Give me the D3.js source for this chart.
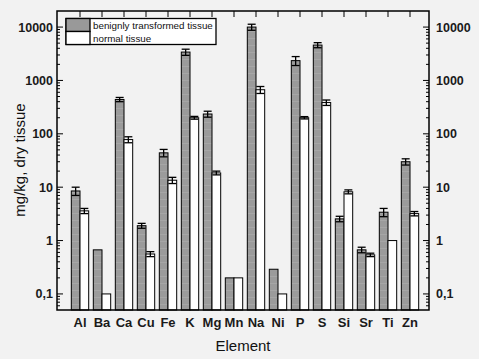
<!DOCTYPE html>
<html><head><meta charset="utf-8">
<script src="https://cdn.jsdelivr.net/npm/d3@7"></script>
<style>html,body{margin:0;padding:0;background:#f2f2f2;}svg{display:block;font-family:"Liberation Sans",Arial,sans-serif;}</style>
</head><body>
<svg id="c" width="479" height="359"></svg>
<script>
const categories = ["Al","Ba","Ca","Cu","Fe","K","Mg","Mn","Na","Ni","P","S","Si","Sr","Ti","Zn"];
const benign     = [8.5, 0.67, 440, 1.9, 44, 3400, 235, 0.2, 10000, 0.29, 2350, 4600, 2.55, 0.67, 3.4, 30];
const benignErr  = [1.5, 0, 40, 0.2, 7, 450, 30, 0, 1300, 0, 450, 500, 0.3, 0.08, 0.6, 4];
const normal     = [3.6, 0.1, 78, 0.56, 13.5, 200, 18.5, 0.2, 670, 0.1, 200, 385, 8.2, 0.54, 1.0, 3.2];
const normalErr  = [0.4, 0, 10, 0.06, 1.8, 12, 1.5, 0, 100, 0, 10, 45, 0.7, 0.04, 0, 0.3];
const tickValues = [0.1, 1, 10, 100, 1000, 10000];
const tickLabels = ["0,1", "1", "10", "100", "1000", "10000"];
const seriesNames = ["benignly transformed tissue", "normal tissue"];

const svg = d3.select("#c");
const L = 57, R = 429, T = 11, B = 310;
const x = d3.scaleBand().domain(categories).range([69, 421]);
const y = d3.scaleLog().domain([0.05, 20000]).range([B, T]);
const bw = x.bandwidth() * 0.395;

const defs = svg.append("defs");
const pat = defs.append("pattern").attr("id","stripe").attr("patternUnits","userSpaceOnUse")
  .attr("width", 8).attr("height", 7);
pat.append("rect").attr("width",8).attr("height",7).attr("fill","#9b9b9b");
pat.append("rect").attr("y",3).attr("width",8).attr("height",1).attr("fill","#a6a6a6");

// bars
const data = categories.map((c,i)=>({c, b:benign[i], be:benignErr[i], n:normal[i], ne:normalErr[i]}));
const g = svg.append("g");
g.selectAll(".bb").data(data).join("rect")
  .attr("x", d => x(d.c) + x.bandwidth()/2 - bw)
  .attr("y", d => y(d.b)).attr("width", bw).attr("height", d => B - y(d.b))
  .attr("fill","url(#stripe)").attr("stroke","#000").attr("stroke-width",1);
g.selectAll(".nb").data(data).join("rect")
  .attr("x", d => x(d.c) + x.bandwidth()/2)
  .attr("y", d => y(d.n)).attr("width", bw).attr("height", d => B - y(d.n))
  .attr("fill","#fff").attr("stroke","#000").attr("stroke-width",1);

function errBars(key, ekey, off) {
  const e = data.filter(d => d[ekey] > 0);
  const cx = d => x(d.c) + x.bandwidth()/2 + off;
  const eg = g.append("g").attr("stroke","#000").attr("stroke-width",1.3);
  eg.selectAll("line.v").data(e).join("line").attr("class","v")
    .attr("x1",cx).attr("x2",cx)
    .attr("y1", d => y(d[key] + d[ekey])).attr("y2", d => y(d[key] - d[ekey]));
  eg.selectAll("line.t").data(e).join("line").attr("class","t")
    .attr("x1",d=>cx(d)-4).attr("x2",d=>cx(d)+4)
    .attr("y1", d => y(d[key] + d[ekey])).attr("y2", d => y(d[key] + d[ekey]));
  eg.selectAll("line.b").data(e).join("line").attr("class","b")
    .attr("x1",d=>cx(d)-4).attr("x2",d=>cx(d)+4)
    .attr("y1", d => y(d[key] - d[ekey])).attr("y2", d => y(d[key] - d[ekey]));
}
errBars("b","be",-bw/2);
errBars("n","ne",bw/2);

// frame
svg.append("rect").attr("x",L).attr("y",T).attr("width",R-L).attr("height",B-T)
  .attr("fill","none").attr("stroke","#000").attr("stroke-width",1.5);

// minor ticks
const minor = [];
for (let e=-2; e<=4; e++) for (let m=2; m<=9; m++) { const v = m*Math.pow(10,e); if (v>0.05 && v<20000) minor.push(v); }
const tg = svg.append("g").attr("stroke","#000").attr("stroke-width",1);
[[L,1],[R,-1]].forEach(([x0,dir])=>{
  tg.selectAll(null).data(tickValues).join("line")
    .attr("x1",x0).attr("x2",x0+dir*6).attr("y1",d=>y(d)).attr("y2",d=>y(d));
  tg.selectAll(null).data(minor).join("line")
    .attr("x1",x0).attr("x2",x0+dir*3).attr("y1",d=>y(d)).attr("y2",d=>y(d));
});
// top ticks
tg.selectAll(null).data(categories).join("line")
  .attr("x1",d=>x(d)+x.bandwidth()/2).attr("x2",d=>x(d)+x.bandwidth()/2)
  .attr("y1",T).attr("y2",T+6);

// tick labels
const lab = svg.append("g").attr("font-size",12.5).attr("font-weight","bold").attr("fill","#1a1a1a");
lab.selectAll(null).data(tickValues).join("text")
  .attr("x",L-4).attr("y",d=>y(d)+4.5).attr("text-anchor","end").text((d,i)=>tickLabels[i]);
lab.selectAll(null).data(tickValues).join("text")
  .attr("x",R+7).attr("y",d=>y(d)+4.5).attr("text-anchor","start").text((d,i)=>tickLabels[i]);
svg.append("g").attr("font-size",13).attr("font-weight","bold").attr("fill","#1a1a1a")
  .selectAll(null).data(categories).join("text")
  .attr("x",d=>x(d)+x.bandwidth()/2).attr("y",327).attr("text-anchor","middle").text(d=>d);

// axis titles
svg.append("text").attr("x",243).attr("y",351).attr("text-anchor","middle")
  .attr("font-size",15).attr("fill","#111").text("Element");
svg.append("text").attr("transform","translate(25,160) rotate(-90)").attr("text-anchor","middle")
  .attr("font-size",15).attr("fill","#111").text("mg/kg, dry tissue");

// legend
const lg = svg.append("g");
lg.append("rect").attr("x",66).attr("y",18.5).attr("width",150).attr("height",26)
  .attr("fill","#fff").attr("stroke","#000").attr("stroke-width",1.3);
lg.append("rect").attr("x",66).attr("y",18.5).attr("width",24).attr("height",13)
  .attr("fill","#999").attr("stroke","#000").attr("stroke-width",1.3);
lg.append("rect").attr("x",66).attr("y",31.5).attr("width",24).attr("height",13)
  .attr("fill","#fff").attr("stroke","#000").attr("stroke-width",1.3);
lg.selectAll("text").data(seriesNames).join("text")
  .attr("x",93).attr("y",(d,i)=>28.5+i*13).attr("font-size",9.8).attr("fill","#111").text(d=>d);
</script>
</body></html>
